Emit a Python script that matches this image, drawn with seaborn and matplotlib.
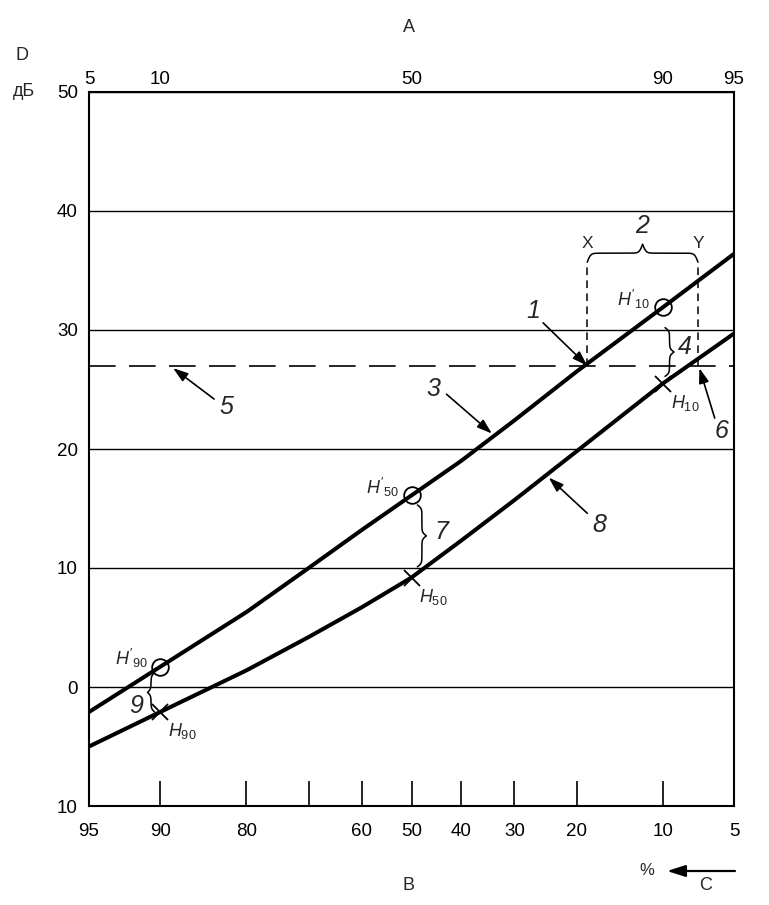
import numpy as np
import pandas as pd
import seaborn as sns
import matplotlib.pyplot as plt
from matplotlib.transforms import IdentityTransform
from statistics import NormalDist

# Niveles: % de excedencia (escala inferior) y dB
exceed_pct = [95, 90, 80, 70, 60, 50, 40, 30, 20, 10, 5]
level_upper = [-2.1, 1.7, 6.3, 10.0, 13.2, 16.1, 19.0, 22.4, 26.5, 31.9, 36.4]
level_lower = [-5.0, -2.1, 1.4, 4.2, 6.7, 9.2, 12.3, 15.7, 19.8, 25.5, 29.7]

# Puntos H' / H en 90, 50 y 10 %
marker_pct = [90, 50, 10]
h_prime = [1.7, 16.1, 31.9]
h_plain = [-2.1, 9.2, 25.5]
h_prime_labels = ["$H'_{90}$", "$H'_{50}$", "$H'_{10}$"]
h_plain_labels = ["$H_{90}$", "$H_{50}$", "$H_{10}$"]

threshold_db = 27
x_pct, y_pct = 18.5, 7.2

bottom_ticks = [95, 90, 80, 70, 60, 50, 40, 30, 20, 10, 5]
bottom_labels = ['95', '90', '80', '', '60', '50', '40', '30', '20', '10', '5']
top_ticks = [5, 10, 50, 90, 95]
grid_pct = [90, 50, 10]
y_ticks = [50, 40, 30, 20, 10, 0, -10]
y_labels = ['50', '40', '30', '20', '10', '0', '10']

df = pd.DataFrame({'exceed': exceed_pct, 'upper': level_upper, 'lower': level_lower})
df['cum'] = 100 - df['exceed']

# Escala de probabilidad normal
nd = NormalDist()
_ppf = np.vectorize(lambda v: nd.inv_cdf(v) if 0 < v < 1 else np.nan, otypes=[float])
_cdf = np.vectorize(lambda v: nd.cdf(v), otypes=[float])


def fwd(q):
    q = np.clip(np.asarray(q, dtype=float), 1e-4, 100 - 1e-4)
    return _ppf(q / 100)


def inv(z):
    return _cdf(np.asarray(z, dtype=float)) * 100


sns.set_theme(style="white", rc={"axes.edgecolor": "black", "axes.linewidth": 1.5})
plt.rcParams['font.family'] = ['Liberation Sans', 'DejaVu Sans']
plt.rcParams['mathtext.fontset'] = 'custom'
plt.rcParams['mathtext.it'] = 'Liberation Sans:italic'
plt.rcParams['mathtext.rm'] = 'Liberation Sans'

fig = plt.figure(figsize=(7.69, 9.05), dpi=100)
ax = fig.add_axes([89 / 769, 1 - 806 / 905, 645 / 769, 714 / 905])

# Curvas
sns.lineplot(data=df, x='cum', y='upper', ax=ax, color='black', lw=2.9, estimator=None, legend=False)
sns.lineplot(data=df, x='cum', y='lower', ax=ax, color='black', lw=2.9, estimator=None, legend=False)

mx = [100 - p for p in marker_pct]
ax.plot(mx, h_prime, 'o', ms=12, mfc='none', mec='black', mew=1.3, zorder=5)
ax.plot(mx, h_plain, 'x', ms=11, color='black', mew=1.3, zorder=5)

ax.set_xscale('function', functions=(fwd, inv))
ax.set_xlim(5, 95)
ax.set_ylim(-10, 50)

# Ejes y rejilla
ax.set_xticks([100 - p for p in bottom_ticks])
ax.set_xticklabels(bottom_labels)
ax.set_xticks([100 - p for p in grid_pct], minor=True)
ax.tick_params(axis='x', which='major', direction='in', length=18, width=1.2, color='black',
               pad=12, labelsize=13.5, labelcolor='black', bottom=True)
ax.tick_params(axis='x', which='minor', length=0)
ax.grid(axis='x', which='minor', color='black', lw=1.0)
ax.set_yticks(y_ticks)
ax.set_yticklabels(y_labels)
ax.tick_params(axis='y', length=0, pad=8, labelsize=13.5, labelcolor='black')
ax.grid(axis='y', which='major', color='black', lw=1.0)
ax.set_xlabel('')
ax.set_ylabel('')

ax2 = ax.twiny()
ax2.set_xscale('function', functions=(fwd, inv))
ax2.set_xlim(5, 95)
ax2.set_xticks(top_ticks)
ax2.set_xticklabels([str(t) for t in top_ticks])
ax2.tick_params(axis='x', length=0, pad=3, labelsize=13.5, labelcolor='black')
for s in ax2.spines.values():
    s.set_visible(False)

# Nivel umbral y lineas X, Y
ax.axhline(threshold_db, color='black', lw=1.2, ls=(0, (16, 8)))
ax.vlines([100 - x_pct, 100 - y_pct], threshold_db, 35.7, color='black', lw=1.1,
          linestyles=[(0, (5, 3.5))])

# Etiquetas H
for x, yv, lab in zip(mx, h_prime, h_prime_labels):
    ax.annotate(lab, (x, yv), xytext=(-21, 6), textcoords='offset points',
                ha='center', va='center', fontsize=13)
for x, yv, lab in zip(mx, h_plain, h_plain_labels):
    ax.annotate(lab, (x, yv), xytext=(16, -14), textcoords='offset points',
                ha='center', va='center', fontsize=13)

arrow_kw = dict(arrowstyle='-|>,head_length=0.9,head_width=0.3', color='black', lw=1.2,
                shrinkA=0, shrinkB=0, mutation_scale=10)


def arrow(tail, tip):
    ax.annotate('', xy=(100 - tip[0], tip[1]), xytext=(100 - tail[0], tail[1]), arrowprops=arrow_kw)


def num(p, db, s):
    ax.text(100 - p, db, s, fontsize=18, style='italic', ha='center', va='center')


num(26.8, 31.6, '1'); arrow((25.1, 30.6), (x_pct, threshold_db))
num(12.0, 38.7, '2')
num(45.5, 25.0, '3'); arrow((42.9, 24.6), (34.1, 21.3))
num(8.2, 28.6, '4')
num(82.8, 23.5, '5'); arrow((84.3, 24.2), (88.8, 26.8))
num(5.7, 21.5, '6'); arrow((6.1, 22.6), (7.1, 26.8))
num(44.0, 13.05, '7')
num(16.9, 13.6, '8'); arrow((18.5, 14.6), (24.2, 17.6))
num(92.0, -1.6, '9')

ax.text(100 - x_pct, 37.3, 'X', fontsize=12.5, ha='center', va='center')
ax.text(100 - y_pct, 37.3, 'Y', fontsize=12.5, ha='center', va='center')


def brace(start, end, side=1, width=9, lw=1.1):
    a = ax.transData.transform((100 - start[0], start[1]))
    b = ax.transData.transform((100 - end[0], end[1]))
    L = np.hypot(*(b - a))
    t = (b - a) / L
    n = side * np.array([-t[1], t[0]])
    s = np.linspace(0, L / 2, 80)
    h = 1 / (1 + np.exp(-0.6 * s)) + 1 / (1 + np.exp(-0.6 * (s - L / 2))) - 0.5
    s_all = np.concatenate([s, L - s[::-1]])
    h_all = np.concatenate([h, h[::-1]])
    pts = a + np.outer(s_all, t) + np.outer(h_all * width, n)
    ax.plot(pts[:, 0], pts[:, 1], color='black', lw=lw, transform=IdentityTransform(), clip_on=False)


brace((x_pct, 35.7), (y_pct, 35.7), side=1, width=18)
brace((9.8, 30.2), (9.8, 26.1), side=1, width=9)
brace((48.8, 15.3), (48.8, 10.1), side=1, width=9)
brace((90.5, 1.2), (90.5, -2.1), side=-1, width=7)

# Letras exteriores
fig.text(409 / 769, 1 - 27 / 905, 'A', fontsize=13, ha='center', va='center')
fig.text(409 / 769, 1 - 885 / 905, 'B', fontsize=13, ha='center', va='center')
fig.text(706 / 769, 1 - 885 / 905, 'C', fontsize=13, ha='center', va='center')
fig.text(647 / 769, 1 - 870 / 905, '%', fontsize=12, ha='center', va='center')
fig.text(22 / 769, 1 - 56 / 905, 'D', fontsize=13, ha='center', va='center')
fig.text(24 / 769, 1 - 92 / 905, 'дБ', fontsize=13, ha='center', va='center')
ax.annotate('', xy=(667 / 769, 1 - 871 / 905), xycoords='figure fraction',
            xytext=(735 / 769, 1 - 871 / 905), textcoords='figure fraction',
            arrowprops=dict(arrowstyle='-|>,head_length=1.1,head_width=0.35', color='black',
                            lw=1.6, shrinkA=0, shrinkB=0, mutation_scale=10))

fig.savefig('out.png', dpi=100)
